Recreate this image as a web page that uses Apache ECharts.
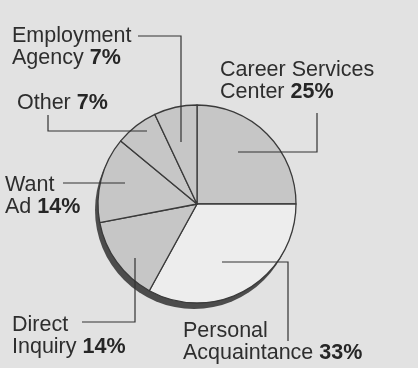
<!DOCTYPE html>
<html>
<head>
<meta charset="utf-8">
<script src="https://cdn.jsdelivr.net/npm/echarts@6/dist/echarts.min.js"></script>
<style>
  html, body { margin: 0; padding: 0; background: #e2e2e2; }
  #chart { width: 418px; height: 368px; }
</style>
</head>
<body>
<div id="chart"></div>
<script>
// How graduates found their jobs (share of respondents, %)
const categories = ['Career Services Center', 'Personal Acquaintance', 'Direct Inquiry', 'Want Ad', 'Other', 'Employment Agency'];
const values = [25, 33, 14, 14, 7, 7];
// Label text, split into lines; the percentage is appended in bold
const labelNames = ['Career Services\nCenter', 'Personal\nAcquaintance', 'Direct\nInquiry', 'Want\nAd', 'Other', 'Employment\nAgency'];

const CENTER = [197, 204];
const RADIUS = 99;

const SHADED = '#c6c6c6';
const LIGHT = '#ededed';
const sliceColors = [SHADED, LIGHT, SHADED, SHADED, SHADED, SHADED];

// Label box (top-left) and leader-line route for each slice
const labelPlacement = [
  { x: 220, y: 59,  line: [[317, 113], [317, 152], [238, 152]] },
  { x: 183, y: 320, line: [[288, 341], [288, 262], [222, 262]] },
  { x: 12,  y: 314, line: [[82, 322], [135, 322], [135, 258]] },
  { x: 5,   y: 174, line: [[63, 183], [94, 183], [125, 183]] },
  { x: 17,  y: 92,  line: [[48, 115], [48, 131], [147, 131]] },
  { x: 12,  y: 25,  line: [[138, 36], [181, 36], [181, 142]] }
];

function richLabel(i) {
  const lines = labelNames[i].split('\n');
  const last = lines.pop();
  const head = lines.map(l => '{n|' + l + '}').join('\n');
  const tail = '{n|' + last + ' }{b|' + values[i] + '%}';
  return head ? head + '\n' + tail : tail;
}

const chart = echarts.init(document.getElementById('chart'), null, { renderer: 'canvas' });

const FONT = 'Liberation Sans';
const FONT_SIZE = 21.5;
const sliceData = categories.map((c, i) => ({ name: c, value: values[i] }));

chart.setOption({
  backgroundColor: '#e2e2e2',
  animation: false,
  series: [
    {
      // dark rim along the lower-left edge of the disc
      type: 'pie',
      silent: true,
      z: 1,
      center: [CENTER[0] - 3, CENTER[1] + 6],
      radius: RADIUS,
      label: { show: false },
      labelLine: { show: false },
      itemStyle: { color: '#4c4c4c' },
      data: [{ value: 1, name: '' }]
    },
    {
      // the slices
      type: 'pie',
      silent: true,
      z: 2,
      center: CENTER,
      radius: RADIUS,
      startAngle: 90,
      clockwise: true,
      itemStyle: { borderColor: '#3a3a3a', borderWidth: 1.3 },
      label: { show: false },
      labelLine: { show: false },
      data: sliceData.map((d, i) => ({ ...d, itemStyle: { color: sliceColors[i] } }))
    },
    {
      // labels and leader lines, laid over the slices
      type: 'pie',
      silent: true,
      z: 3,
      center: CENTER,
      radius: RADIUS,
      startAngle: 90,
      clockwise: true,
      itemStyle: { color: 'rgba(0,0,0,0)', borderWidth: 0 },
      label: {
        show: true,
        position: 'outside',
        align: 'left',
        overflow: 'none',
        width: 300,
        rich: {
          n: { fontFamily: FONT, fontSize: FONT_SIZE, color: '#2e2e2e', lineHeight: 22 },
          b: { fontFamily: FONT, fontSize: FONT_SIZE, color: '#262626', fontWeight: 'bold', lineHeight: 22 }
        },
        formatter: p => richLabel(p.dataIndex)
      },
      labelLine: {
        show: true,
        lineStyle: { color: '#333', width: 1.2 }
      },
      labelLayout: p => {
        const pl = labelPlacement[p.dataIndex];
        return { x: pl.x, y: pl.y, align: 'left', verticalAlign: 'top', labelLinePoints: pl.line };
      },
      data: sliceData
    }
  ]
});
</script>
</body>
</html>
